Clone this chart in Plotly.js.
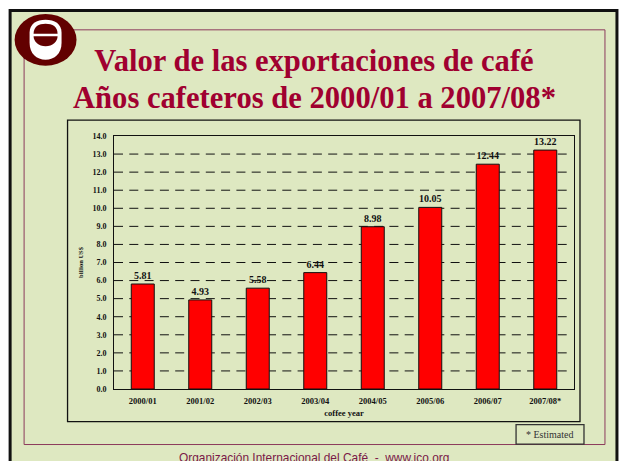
<!DOCTYPE html>
<html><head><meta charset="utf-8">
<script src="https://cdn.plot.ly/plotly-3.0.1.min.js"></script>
<style>html,body{margin:0;padding:0;background:#fff;overflow:hidden}</style>
</head><body><div id="chart" style="width:619px;height:461px"></div>
<script>
const categories = ["2000/01","2001/02","2002/03","2003/04","2004/05","2005/06","2006/07","2007/08*"];
const exportValues = [5.81,4.93,5.58,6.44,8.98,10.05,12.44,13.22];
const valueLabels = ["5.81","4.93","5.58","6.44","8.98","10.05","12.44","13.22"];
const yTicks = [0,1,2,3,4,5,6,7,8,9,10,11,12,13,14];
const yTickLabels = ["0.0","1.0","2.0","3.0","4.0","5.0","6.0","7.0","8.0","9.0","10.0","11.0","12.0","13.0","14.0"];
const titleLines = ["Valor de las exportaciones de café","Años cafeteros de 2000/01 a 2007/08*"];
const W=619,H=461,L=113.5,R=574,T=135.5,B=389.3;
const px=x=>(x-L)/(R-L), py=y=>(B-y)/(B-T);
const BG='#dee8c1',SERIF='"Liberation Serif","Times New Roman",serif',MAROON='#620000',TITLE='#a00030';
const box=(x0,y0,x1,y1,color,width,fill)=>({type:'rect',xref:'paper',yref:'paper',layer:'below',
  x0:px(x0),x1:px(x1),y0:py(y0),y1:py(y1),line:{color:color,width:width},fillcolor:fill||'rgba(0,0,0,0)'});
const oval=(x0,y0,x1,y1,fill)=>({type:'circle',xref:'paper',yref:'paper',layer:'above',
  x0:px(x0),x1:px(x1),y0:py(y0),y1:py(y1),line:{width:0},fillcolor:fill});
const path=(pts,fill)=>({type:'path',xref:'paper',yref:'paper',layer:'above',line:{width:0},fillcolor:fill,
  path:pts.map(p=>typeof p==='string'?p:px(p[0])+','+py(p[1])).join(' ')});
const grid=yTicks.filter(v=>v>0&&v<14).map(v=>({type:'line',xref:'x',yref:'y',layer:'below',
  x0:-0.766,x1:7.38,y0:v,y1:v,line:{color:'#111',width:1,dash:'9px,6.3px'}}));
const shapes=[
  box(9.5,9.5,617,470,'#111',3,BG),
  box(23.5,29,605,445,'#8c3a5c',1),
  box(67,119.5,580,422,'#111',1.3),
  box(516,425,584,444.5,'#333',1.3,BG),
  ...grid,
  oval(14,13,76,65,MAROON),
  path(['M',[29,32],'C',[29,23],[36,19],[45,19],'C',[54,19],[61,23],[61,32],'L',[61,42],'C',[61,53],[54,59],[45,59],'C',[36,59],[29,53],[29,42],'Z'],'#fff'),
  path(['M',[33,33],'C',[33,26],[38,23],[45,23],'C',[52,23],[57,26],[57,33],'Z'],MAROON),
  path(['M',[33,35.5],'L',[57,35.5],'C',[57,41],[52,45.5],[45,45.5],'C',[38,45.5],[33,41],[33,35.5],'Z'],MAROON)
];
Plotly.newPlot('chart',[{
  type:'bar',x:categories,y:exportValues,width:0.4,
  marker:{color:'#ff0000',line:{color:'#111',width:1}},
  text:valueLabels,textposition:'outside',cliponaxis:false,
  textfont:{family:SERIF,size:10,color:'#111',weight:'bold'},hoverinfo:'skip'
}],{
  width:W,height:H,showlegend:false,paper_bgcolor:'#fff',plot_bgcolor:'rgba(0,0,0,0)',
  margin:{l:L,r:W-R,t:T,b:H-B,pad:0},
  title:{text:'<b>'+titleLines[0]+'</b>',x:314/W,xanchor:'center',y:1-71/H,yanchor:'bottom',
    pad:{b:0},font:{family:SERIF,size:30.6,color:TITLE}},
  xaxis:{type:'category',range:[-0.5,7.5],showgrid:false,showline:true,linecolor:'#111',linewidth:1,mirror:true,
    ticks:'',tickfont:{family:SERIF,size:8.5,color:'#111',weight:'bold'},ticklabelstandoff:4,
    title:{text:'<b>coffee year</b>',font:{family:SERIF,size:8.5,color:'#111'},standoff:4}},
  yaxis:{range:[0,14],tickmode:'array',tickvals:yTicks,ticktext:yTickLabels,showgrid:false,zeroline:false,
    showline:true,linecolor:'#111',linewidth:1,mirror:true,ticks:'',
    tickfont:{family:SERIF,size:8,color:'#111',weight:'bold'},ticklabelstandoff:5,
    title:{text:'<b>billion US$</b>',font:{family:SERIF,size:6.5,color:'#111'},standoff:8}},
  shapes:shapes,
  annotations:[
    {xref:'paper',yref:'paper',x:px(314),y:py(97.5),text:'<b>'+titleLines[1]+'</b>',showarrow:false,xanchor:'center',yanchor:'middle',
     font:{family:SERIF,size:30.6,color:TITLE}},
    {xref:'paper',yref:'paper',x:px(550),y:py(434.5),text:'* Estimated',showarrow:false,xanchor:'center',yanchor:'middle',
     font:{family:SERIF,size:10,color:'#333'}},
    {xref:'paper',yref:'paper',x:px(314),y:py(449),text:'Organización Internacional del Café  -  www.ico.org',showarrow:false,xanchor:'center',yanchor:'top',
     font:{family:'"Liberation Sans",Arial,sans-serif',size:11.9,color:'#7a1848'}}
  ]
},{displayModeBar:false,staticPlot:true});
</script></body></html>
